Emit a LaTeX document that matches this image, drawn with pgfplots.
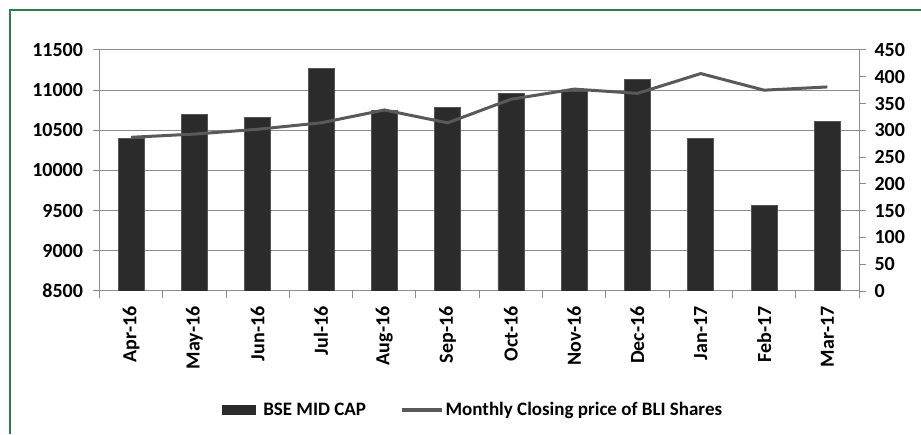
\documentclass[border=0pt]{standalone}
\usepackage{fontspec}
\setmainfont{Carlito}
\usepackage{pgfplots}
\pgfplotsset{compat=1.18}
\definecolor{barc}{HTML}{2B2B2B}
\definecolor{linec}{HTML}{595959}
\definecolor{gridc}{HTML}{8C8C8C}
\definecolor{framec}{HTML}{2F7D4F}
\begin{document}
\begin{tikzpicture}[x=1pt,y=1pt]
\useasboundingbox (0,0) rectangle (921,434);
\draw[framec, line width=1.5pt] (9.8,0) -- (9.8,424.2) -- (921,424.2);
\pgfplotsset{every axis/.append style={scale only axis, width=759.5pt, height=241pt,
  at={(99.5pt,143pt)}, anchor=south west, xmin=-0.5, xmax=11.5,
  scaled ticks=false,
  /pgf/number format/assume math mode=true,
  /pgf/number format/1000 sep={},
  tick label style={font=\fontsize{20}{24}\selectfont\bfseries},
  tick style={gridc, line width=1pt}, tick align=outside, major tick length=7pt,
  axis line style={gridc, line width=1pt}}}
\begin{axis}[
  axis y line*=left, axis x line*=bottom,
  ymin=8500, ymax=11500, ytick={8500,9000,...,11500},
  ymajorgrids, grid style={gridc, line width=1pt},
  yticklabel style={xshift=-6pt},
  xtick={-0.5,0.5,...,11.5}, xticklabels={},
  extra x ticks={0,1,...,11},
  extra x tick labels={Apr-16,May-16,Jun-16,Jul-16,Aug-16,Sep-16,Oct-16,Nov-16,Dec-16,Jan-17,Feb-17,Mar-17},
  extra x tick style={major tick length=0pt, xticklabel style={yshift=-12pt, rotate=90, anchor=east}},
]
\addplot[ybar, bar width=26pt, bar shift=0pt, fill=barc, draw=barc!80!white, line width=0.6pt]
 coordinates {(0,10401) (1,10703) (2,10662) (3,11267) (4,10753) (5,10782) (6,10961) (7,10990) (8,11135) (9,10401) (10,9562) (11,10608)};
\end{axis}
\begin{axis}[
  axis y line*=right, axis x line=none,
  ymin=0, ymax=450, ytick={0,50,...,450},
  yticklabel style={xshift=5pt},
  legend style={at={(0.492,-0.494)}, anchor=center, draw=none, fill=none,
    font=\fontsize{19}{23}\selectfont\bfseries, legend columns=2,
    /tikz/every even column/.append style={column sep=32pt}},
]
\addlegendimage{legend image code/.code={\path[draw=none] (0pt,0pt) rectangle (39pt,0.1pt); \fill[barc, draw=none] (0pt,-5pt) rectangle (34pt,5pt);}}
\addlegendentry{BSE MID CAP}
\addplot[linec, line width=3pt, legend image code/.code={\draw[linec, line width=3.5pt] (0pt,0pt) -- (40pt,0pt);}]
 coordinates {(0,287) (1,293) (2,302) (3,314) (4,338) (5,314) (6,358) (7,377) (8,369) (9,406) (10,375) (11,381)};
\addlegendentry{Monthly Closing price of BLI Shares}
\end{axis}
\end{tikzpicture}
\end{document}
